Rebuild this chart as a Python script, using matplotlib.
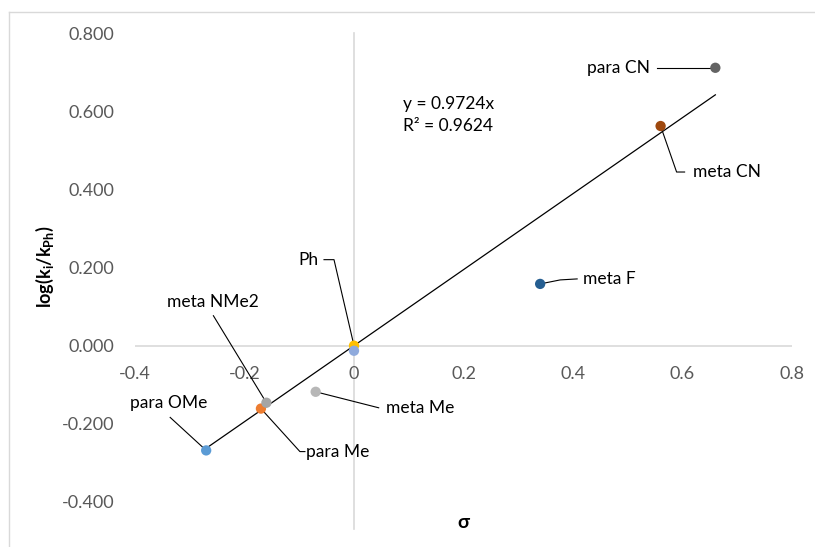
import matplotlib
matplotlib.use("Agg")
import matplotlib.pyplot as plt
from matplotlib.lines import Line2D
import numpy as np

plt.rcParams['font.family'] = ['Lato', 'DejaVu Sans']
plt.rcParams['mathtext.fontset'] = 'custom'
plt.rcParams['mathtext.rm'] = 'Lato'
plt.rcParams['mathtext.bf'] = 'Lato:bold'
plt.rcParams['mathtext.it'] = 'Lato:italic'

# ---- data ----
labels = ["para OMe", "para Me", "meta NMe2", "meta Me", "Ph", "", "meta F", "meta CN", "para CN"]
sigma = [-0.27, -0.17, -0.16, -0.07, 0.0, 0.0, 0.34, 0.56, 0.66]
logk = [-0.268, -0.161, -0.146, -0.118, 0.0, -0.013, 0.158, 0.562, 0.711]
colors = ["#5B9BD5", "#ED7D31", "#A5A5A5", "#B7B7B7", "#FFC000", "#8FAADC", "#255E91", "#9E480E", "#636363"]
slope = 0.9724
r2 = 0.9624
x_ticks = [-0.4, -0.2, 0, 0.2, 0.4, 0.6, 0.8]
x_ticklabels = ["-0.4", "-0.2", "0", "0.2", "0.4", "0.6", "0.8"]
y_ticks = [-0.4, -0.2, 0.0, 0.2, 0.4, 0.6, 0.8]
y_ticklabels = ["-0.400", "-0.200", "0.000", "0.200", "0.400", "0.600", "0.800"]

# label layout: (text offset px, ha, leader path offsets px) ; image-style y (down positive)
label_layout = {
    "para OMe": ((-37, -47), "center", [(0, 0), (-36, -33)]),
    "para Me": ((45, 43), "left", [(0, 0), (39, 43), (44, 43)]),
    "meta NMe2": ((-54, -101), "center", [(0, 0), (-53, -87)]),
    "meta Me": ((70, 16), "left", [(0, 0), (63, 16)]),
    "Ph": ((-35, -86), "right", [(0, 0), (-20, -86), (-30, -86)]),
    "meta F": ((43, -5), "left", [(0, 0), (20, -4), (37, -5)]),
    "meta CN": ((32, 46), "left", [(0, 0), (16, 46), (24, 46)]),
    "para CN": ((-65, 0), "right", [(0, 0), (-58, 0)]),
}

W, H = 815, 547
fig = plt.figure(figsize=(W / 100, H / 100), dpi=100)
ax = fig.add_axes([135 / W, 1 - 502 / H, (792 - 135) / W, (502 - 33) / H])
ax.set_xlim(-0.4, 0.8)
ax.set_ylim(-0.4, 0.8)

# outer chart border (top/left visible)
fig.add_artist(Line2D([9 / W, 9 / W], [0, 1 - 12 / H], color="#D9D9D9", lw=1, transform=fig.transFigure))
fig.add_artist(Line2D([9 / W, 1], [1 - 12 / H, 1 - 12 / H], color="#D9D9D9", lw=1, transform=fig.transFigure))

for s in ax.spines.values():
    s.set_visible(False)
ax.axhline(0, color="#D9D9D9", lw=1.2, zorder=1)
ax.plot([0, 0], [-0.47, 0.8], color="#D9D9D9", lw=1.2, zorder=1, clip_on=False)

# tick labels
ax.set_yticks(y_ticks)
ax.set_yticklabels(y_ticklabels)
ax.tick_params(axis="y", length=0, pad=15, labelsize=13, labelcolor="#595959")
ax.set_xticks([])
for xv, lab in zip(x_ticks, x_ticklabels):
    ax.annotate(lab, xy=(xv, 0), xytext=(0, -28), textcoords="offset pixels",
                ha="center", va="center", fontsize=13, color="#595959")

# trendline
xs = np.array([min(sigma), max(sigma)])
ax.plot(xs, slope * xs, color="#000000", lw=0.9, zorder=2)

# points
for xv, yv, c in zip(sigma, logk, colors):
    ax.scatter([xv], [yv], s=55, color=c, zorder=4, edgecolors="none")

# labels with leader lines
for lab, xv, yv in zip(labels, sigma, logk):
    if not lab:
        continue
    (tx, ty), ha, path = label_layout[lab]
    px, py = ax.transData.transform((xv, yv))
    pts = np.array([(px + dx, py - dy) for dx, dy in path])
    dpts = ax.transData.inverted().transform(pts)
    ax.plot(dpts[:, 0], dpts[:, 1], color="#000000", lw=0.8, zorder=3)
    ax.annotate(lab, xy=(xv, yv), xytext=(tx, -ty), textcoords="offset pixels",
                ha=ha, va="center", fontsize=12.5, color="#000000", zorder=5)

# equation
ax.text(0.09, 0.59, "y = %.4fx\nR² = %.4f" % (slope, r2), fontsize=12.5, color="#000000",
        ha="left", va="center", linespacing=1.45)

# axis titles
fig.text(45 / W, 1 - 267 / H, r"$\mathbf{log(k_{i}/k_{Ph})}$", rotation=90, ha="center", va="center",
         fontsize=13, color="#000000")
fig.text(463 / W, 1 - 522 / H, "σ", ha="center", va="center", fontsize=14, fontweight="bold", color="#000000")

fig.savefig("out.png", dpi=100, facecolor="white")
